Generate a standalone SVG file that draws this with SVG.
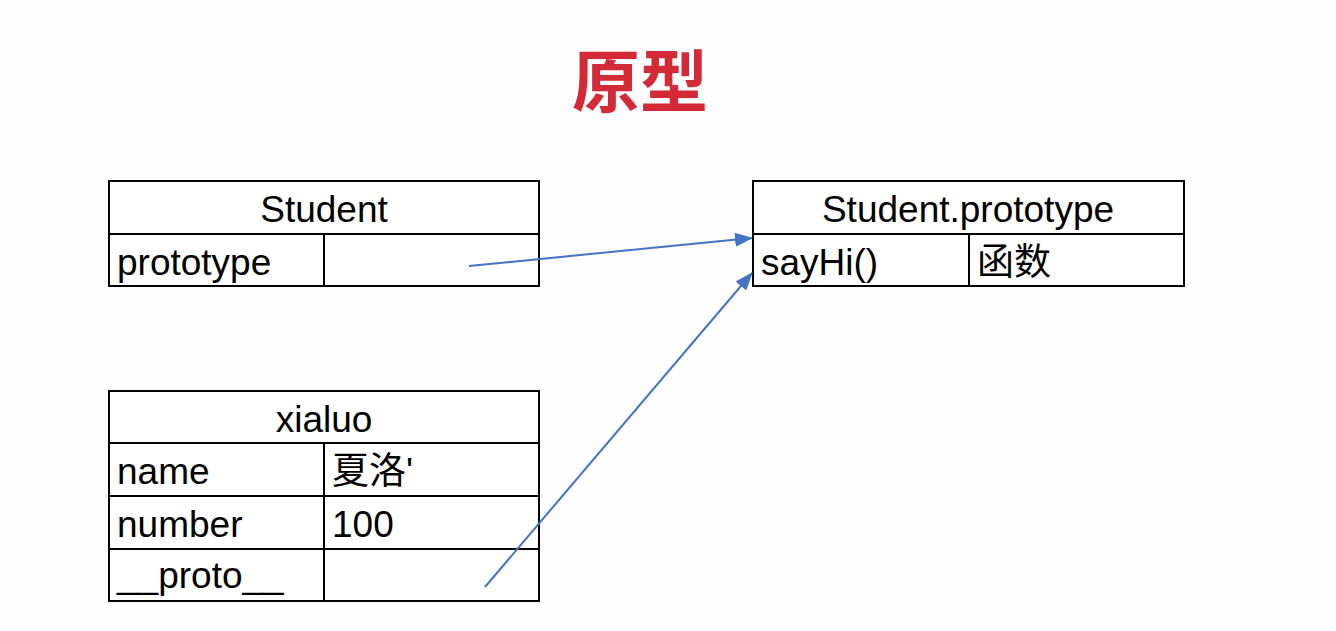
<svg xmlns="http://www.w3.org/2000/svg" width="1336" height="631" viewBox="0 0 1336 631">
<defs>
<style>
.box{fill:#ffffff;stroke:#000000;stroke-width:2}
.ln{stroke:#000000;stroke-width:2}
.t{font-family:"Liberation Sans","Noto Sans CJK SC",sans-serif;font-size:37px;fill:#000000}
.c{text-anchor:middle}
.conn{stroke:#4472c4;stroke-width:2;fill:none}
</style>
<marker id="ah" viewBox="0 0 18 14" refX="17" refY="7" markerWidth="18" markerHeight="14" markerUnits="userSpaceOnUse" orient="auto">
<path d="M0,0 L18,7 L0,14 z" fill="#4472c4"/>
</marker>
</defs>
<rect width="1336" height="631" fill="#fdfefd"/>
<text x="640" y="107" text-anchor="middle" font-family="'Noto Sans CJK SC',sans-serif" font-weight="bold" font-size="68" fill="#d42a37">原型</text>
<g id="student">
<rect class="box" x="109" y="181" width="430" height="105"/>
<line class="ln" x1="109" y1="234" x2="539" y2="234"/>
<line class="ln" x1="324" y1="234" x2="324" y2="286"/>
<text class="t c" x="324" y="222">Student</text>
<text class="t" x="117" y="275">prototype</text>
</g>
<g id="student-prototype">
<rect class="box" x="753" y="181" width="431" height="105"/>
<line class="ln" x1="753" y1="234" x2="1184" y2="234"/>
<line class="ln" x1="969" y1="234" x2="969" y2="286"/>
<text class="t c" x="968" y="222">Student.prototype</text>
<text class="t" x="761" y="275">sayHi()</text>
<text class="t" x="977" y="275">函数</text>
</g>
<g id="xialuo">
<rect class="box" x="109" y="391" width="430" height="210"/>
<line class="ln" x1="109" y1="443" x2="539" y2="443"/>
<line class="ln" x1="109" y1="496" x2="539" y2="496"/>
<line class="ln" x1="109" y1="549" x2="539" y2="549"/>
<line class="ln" x1="324" y1="443" x2="324" y2="601"/>
<text class="t c" x="324" y="432">xialuo</text>
<text class="t" x="117" y="484">name</text>
<text class="t" x="332" y="484">夏洛'</text>
<text class="t" x="117" y="537">number</text>
<text class="t" x="332" y="537">100</text>
<text class="t" x="117" y="588">__proto__</text>
</g>
<g id="connectors">
<line class="conn" x1="469" y1="266" x2="752" y2="238" marker-end="url(#ah)"/>
<line class="conn" x1="485" y1="587" x2="752" y2="273" marker-end="url(#ah)"/>
</g>
</svg>
